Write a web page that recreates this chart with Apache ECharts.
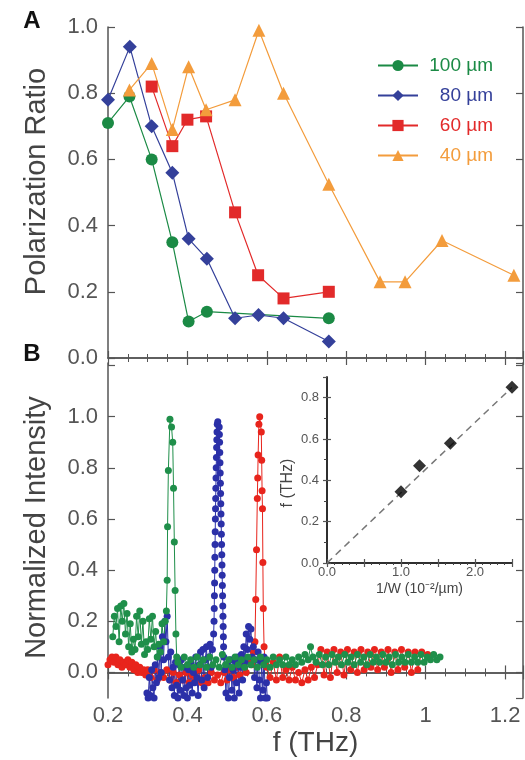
<!DOCTYPE html>
<html><head><meta charset="utf-8">
<script src="https://cdn.jsdelivr.net/npm/echarts@6/dist/echarts.min.js"></script>
<style>html,body{margin:0;padding:0;background:#fff}#c{width:525px;height:760px}</style>
</head><body><div id="c"></div>
<script>
// ---------- Panel A: polarization ratio ----------
const seriesNames = ['100 µm', '80 µm', '60 µm', '40 µm'];
const f100 = [0.200, 0.254, 0.310, 0.362, 0.403, 0.449, 0.756];
const r100 = [0.71, 0.79, 0.60, 0.35, 0.11, 0.14, 0.12];
const f80 = [0.200, 0.255, 0.310, 0.362, 0.403, 0.449, 0.520, 0.579, 0.642, 0.756];
const r80 = [0.78, 0.94, 0.70, 0.56, 0.36, 0.30, 0.12, 0.13, 0.12, 0.05];
const f60 = [0.310, 0.362, 0.400, 0.447, 0.520, 0.578, 0.642, 0.756];
const r60 = [0.82, 0.64, 0.72, 0.73, 0.44, 0.25, 0.18, 0.20];
const f40 = [0.254, 0.310, 0.362, 0.403, 0.447, 0.520, 0.580, 0.642, 0.756, 0.885, 0.948, 1.041, 1.222];
const r40 = [0.81, 0.89, 0.69, 0.88, 0.75, 0.78, 0.99, 0.80, 0.525, 0.23, 0.23, 0.355, 0.25];

// ---------- Panel B: normalized spectra [f (THz), intensity] ----------
const spec100 = [
 [0.212,0.14],[0.216,0.22],[0.220,0.18],[0.224,0.25],[0.228,0.12],[0.232,0.26],[0.236,0.20],[0.240,0.27],
 [0.244,0.15],[0.248,0.23],[0.252,0.10],[0.256,0.19],[0.260,0.08],[0.264,0.13],[0.268,0.09],[0.272,0.22],
 [0.276,0.14],[0.280,0.24],[0.284,0.11],[0.288,0.20],[0.292,0.07],[0.296,0.12],[0.300,0.09],[0.304,0.21],
 [0.308,0.13],[0.312,0.22],[0.316,0.10],[0.320,0.16],[0.324,0.06],[0.328,0.11],[0.332,0.08],[0.336,0.19],
 [0.340,0.12],[0.344,0.20],[0.347,0.24],[0.349,0.36],[0.350,0.57],[0.352,0.79],[0.356,0.99],[0.360,0.96],
 [0.363,0.90],[0.365,0.72],[0.367,0.51],[0.369,0.32],[0.371,0.15],[0.373,0.06],
 [0.376,0.04],[0.384,0.02],[0.392,0.06],[0.400,0.03],[0.408,0.05],[0.416,0.02],[0.424,0.06],[0.432,0.03],
 [0.440,0.05],[0.448,0.02],[0.456,0.06],[0.464,0.03],[0.472,0.05],[0.480,0.02],[0.488,0.07],[0.496,0.03],
 [0.504,0.05],[0.512,0.02],[0.520,0.06],[0.528,0.03],[0.536,0.05],[0.544,0.02],[0.552,0.06],[0.560,0.03],
 [0.568,0.05],[0.576,0.02],[0.584,0.06],[0.592,0.03],[0.600,0.05],[0.608,0.02],[0.616,0.06],[0.624,0.03],
 [0.632,0.05],[0.640,0.03],[0.648,0.06],[0.656,0.03],[0.664,0.05],[0.672,0.03],[0.680,0.06],[0.688,0.04],
 [0.696,0.07],[0.704,0.05],[0.710,0.10],[0.716,0.06],[0.724,0.04],[0.732,0.07],[0.740,0.03],[0.748,0.06],
 [0.756,0.03],[0.764,0.07],[0.772,0.04],[0.780,0.06],[0.788,0.03],[0.796,0.07],[0.804,0.04],[0.812,0.06],
 [0.820,0.03],[0.828,0.07],[0.836,0.04],[0.844,0.06],[0.852,0.03],[0.860,0.07],[0.868,0.04],[0.876,0.06],
 [0.884,0.04],[0.892,0.07],[0.900,0.04],[0.908,0.06],[0.916,0.03],[0.924,0.07],[0.932,0.04],[0.940,0.06],
 [0.948,0.04],[0.956,0.07],[0.964,0.04],[0.972,0.06],[0.980,0.04],[0.988,0.07],[0.996,0.04],[1.004,0.06],
 [1.012,0.05],[1.020,0.07],[1.028,0.05],[1.036,0.06]
];
const spec80 = [
 [0.298,-0.08],[0.301,-0.10],[0.304,-0.02],[0.307,-0.09],[0.310,0.01],[0.313,-0.06],[0.316,-0.10],[0.319,0.03],
 [0.322,-0.04],[0.325,0.06],[0.328,-0.02],[0.331,0.10],[0.334,0.00],[0.337,0.14],[0.340,0.05],[0.343,0.20],
 [0.346,0.12],[0.349,0.22],[0.352,0.06],[0.355,-0.03],[0.358,0.08],[0.361,-0.06],[0.364,0.02],[0.367,-0.09],
 [0.370,0.04],[0.373,-0.05],[0.376,-0.10],[0.379,0.03],[0.382,-0.07],[0.385,0.05],[0.388,-0.03],[0.391,-0.09],
 [0.394,0.02],[0.397,-0.06],[0.400,-0.10],[0.403,0.01],[0.406,-0.05],[0.409,0.04],[0.412,-0.08],[0.415,0.00],
 [0.418,-0.04],[0.421,0.06],[0.424,-0.02],[0.427,-0.09],[0.430,0.03],[0.433,0.08],[0.436,-0.03],[0.439,0.09],
 [0.442,-0.06],[0.445,0.05],[0.448,0.10],[0.451,-0.02],[0.454,0.06],[0.457,0.11],[0.460,0.02],[0.463,0.09],
 [0.466,0.15],
 [0.4670,0.20],[0.4675,0.25],[0.4680,0.30],[0.4684,0.35],[0.4688,0.40],[0.4692,0.45],[0.4696,0.50],[0.4700,0.55],
 [0.4704,0.60],[0.4708,0.64],[0.4712,0.68],[0.4716,0.72],[0.4720,0.76],[0.4725,0.80],[0.4730,0.84],[0.4735,0.88],
 [0.4740,0.91],[0.4745,0.94],[0.4752,0.97],[0.4765,0.98],
 [0.4800,0.96],[0.4805,0.93],[0.4810,0.90],[0.4815,0.86],[0.4820,0.82],[0.4825,0.78],[0.4830,0.74],[0.4835,0.70],
 [0.4840,0.66],[0.4845,0.62],[0.4850,0.58],[0.4855,0.54],[0.4860,0.50],[0.4865,0.46],[0.4870,0.42],[0.4875,0.38],
 [0.4880,0.34],[0.4885,0.30],[0.4890,0.26],[0.4895,0.22],[0.4900,0.18],[0.4905,0.14],[0.4910,0.10],[0.4915,0.06],
 [0.494,0.01],[0.497,-0.08],[0.500,0.03],[0.503,-0.10],[0.506,-0.02],[0.509,0.05],[0.512,-0.07],[0.515,0.01],
 [0.518,-0.10],[0.521,0.04],[0.524,-0.04],[0.527,0.06],[0.530,-0.08],[0.533,0.02],[0.536,0.07],[0.539,-0.03],
 [0.542,0.10],[0.545,0.04],[0.548,0.15],[0.551,0.09],[0.554,0.18],[0.557,0.13],[0.560,0.17],[0.563,0.06],
 [0.566,0.10],[0.569,-0.02],[0.572,0.05],[0.575,-0.06],[0.578,0.08],[0.581,-0.03],[0.584,-0.10],[0.587,0.04],
 [0.590,-0.07],[0.593,0.06],[0.596,-0.10],[0.599,-0.04],[0.601,-0.10]
];
const spec60 = [
 [0.200,0.03],[0.205,0.05],[0.210,0.06],[0.215,0.04],[0.220,0.06],[0.225,0.03],[0.230,0.05],[0.235,0.02],
 [0.240,0.04],[0.245,0.03],[0.250,0.05],[0.255,0.02],[0.260,0.04],[0.265,0.01],[0.270,0.03],[0.275,0.00],
 [0.280,0.02],[0.285,0.00],[0.290,0.01],[0.295,-0.01],[0.300,0.01],[0.308,-0.02],[0.316,0.01],[0.324,-0.03],
 [0.332,0.00],[0.340,-0.02],[0.348,0.01],[0.356,-0.03],[0.364,0.00],[0.372,-0.04],[0.380,-0.01],[0.388,-0.03],
 [0.396,0.00],[0.404,-0.04],[0.412,-0.01],[0.420,-0.03],[0.428,0.01],[0.436,-0.04],[0.444,-0.02],[0.452,-0.04],
 [0.460,0.00],[0.468,-0.03],[0.476,-0.01],[0.484,-0.04],[0.492,0.00],[0.500,-0.03],[0.508,0.01],[0.516,-0.02],
 [0.524,0.02],[0.532,-0.01],[0.540,0.03],[0.548,0.00],[0.556,0.05],[0.562,0.03],[0.566,0.08],[0.570,0.12],
 [0.572,0.285],[0.574,0.48],[0.576,0.68],[0.577,0.76],[0.578,0.85],[0.580,0.97],[0.582,1.00],
 [0.586,0.94],[0.587,0.83],[0.588,0.71],[0.589,0.64],[0.590,0.43],[0.591,0.25],[0.593,0.10],[0.596,0.03],
 [0.600,0.02],[0.608,-0.02],[0.616,0.04],[0.624,-0.03],[0.632,0.06],[0.640,-0.02],[0.648,0.01],[0.656,-0.03],
 [0.664,0.02],[0.672,-0.03],[0.680,0.00],[0.688,-0.04],[0.696,0.01],[0.704,-0.03],[0.712,0.02],[0.720,-0.02],
 [0.728,0.03],[0.736,0.09],[0.744,-0.01],[0.752,0.08],[0.760,-0.02],[0.769,0.09],[0.777,0.00],[0.786,0.08],
 [0.794,-0.01],[0.803,0.09],[0.811,0.01],[0.820,0.08],[0.828,0.00],[0.837,0.09],[0.845,0.01],[0.854,0.08],
 [0.862,0.02],[0.871,0.09],[0.879,0.01],[0.888,0.08],[0.896,0.02],[0.905,0.09],[0.913,0.00],[0.922,0.08],
 [0.930,0.01],[0.939,0.09],[0.947,0.02],[0.956,0.08],[0.964,0.00],[0.973,0.08],[0.980,0.01],[0.990,0.08],
 [1.005,0.07]
];

// ---------- Inset: f vs 1/W ----------
const invW = [1.0, 1.25, 1.667, 2.5];
const fPeak = [0.345, 0.47, 0.58, 0.85];
const fitX = [0.0, 2.5];
const fitY = [0.0, 0.85];

// ---------- tick labels ----------
const xTickLabels = ['0.2', '0.4', '0.6', '0.8', '1', '1.2'];
const insetXTickLabels = ['0.0', '', '1.0', '', '2.0', ''];

const FONT = "'Liberation Sans', Arial, Helvetica, sans-serif";
const colA = ['#1b8a45', '#34409a', '#e22a2a', '#f39c3c'];
const colB = ['#1f8f4a', '#2b30a8', '#e8241c'];
const AX = '#555';
const zip = (a, b) => a.map((v, i) => [v, b[i]]);

const lineAx = {show: true, lineStyle: {color: AX, width: 1.5}};
const tickIn = (len) => ({show: true, inside: true, length: len, lineStyle: {color: AX, width: 1.2}});

function xAx(grid, pos, labels, extra) {
  return Object.assign({
    type: 'value', gridIndex: grid, position: pos, min: 0.2, max: 1.245, interval: 0.2,
    axisLine: lineAx, axisTick: tickIn(7),
    minorTick: {show: true, splitNumber: 4, length: 4, lineStyle: {color: AX, width: 1}},
    splitLine: {show: false},
    axisLabel: labels ? {show: true, fontSize: 22, color: '#555', fontFamily: FONT, margin: 7,
      showMaxLabel: false, formatter: (v, i) => xTickLabels[i] !== undefined ? xTickLabels[i] : ''} : {show: false}
  }, extra || {});
}

const option = {
  animation: false,
  backgroundColor: '#fff',
  textStyle: {fontFamily: FONT},
  grid: [
    {left: 108, right: 2, top: 27, height: 331},
    {left: 108, right: 2, top: 363, height: 335},
    {left: 327, top: 377, width: 185, height: 186, show: true, backgroundColor: '#fff', borderWidth: 0, z: 5}
  ],
  xAxis: [
    xAx(0, 'bottom', false),
    xAx(0, 'top', false),
    xAx(1, 'bottom', true, {name: 'f (THz)', nameLocation: 'middle', nameGap: 31,
      nameTextStyle: {fontSize: 28, color: '#444', fontFamily: FONT}}),
    xAx(1, 'top', false),
    {type: 'value', gridIndex: 2, position: 'bottom', min: 0, max: 2.5, interval: 0.5, z: 6,
     axisLine: {show: true, lineStyle: {color: '#222', width: 1.5}}, axisTick: tickIn(4), splitLine: {show: false},
     axisLabel: {fontSize: 13, color: '#555', fontFamily: FONT, margin: 3,
       formatter: (v, i) => insetXTickLabels[i] || ''},
     name: '1/W (10⁻²/µm)', nameLocation: 'middle', nameGap: 19,
     nameTextStyle: {fontSize: 14, color: '#444', fontFamily: FONT}},
    {type: 'value', gridIndex: 2, position: 'top', min: 0, max: 2.5, interval: 0.5, z: 6,
     axisLine: {show: true, lineStyle: {color: '#222', width: 1.5}}, axisTick: tickIn(4),
     minorTick: {show: true, splitNumber: 5, length: 2, lineStyle: {color: '#444'}},
     splitLine: {show: false}, axisLabel: {show: false}}
  ],
  yAxis: [
    {type: 'value', gridIndex: 0, position: 'left', min: 0, max: 1, interval: 0.2,
     axisLine: lineAx, axisTick: tickIn(7), splitLine: {show: false},
     axisLabel: {fontSize: 22, color: '#555', fontFamily: FONT, margin: 10, formatter: v => v.toFixed(1)},
     name: 'Polarization Ratio', nameLocation: 'middle', nameGap: 57,
     nameTextStyle: {fontSize: 29, color: '#444', fontFamily: FONT, padding: [0, 0, 0, 22]}},
    {type: 'value', gridIndex: 0, position: 'right', min: 0, max: 1, interval: 0.2,
     axisLine: lineAx, axisTick: tickIn(7), splitLine: {show: false}, axisLabel: {show: false}},
    {type: 'value', gridIndex: 1, position: 'left', min: -0.1, max: 1.21, splitNumber: 6,
     axisLine: lineAx, axisTick: tickIn(7), splitLine: {show: false},
     axisLabel: {fontSize: 22, color: '#555', fontFamily: FONT, margin: 10, showMinLabel: false, showMaxLabel: false,
       formatter: v => (v > -0.01 && v < 1.05) ? v.toFixed(1) : ''},
     name: 'Normalized Intensity', nameLocation: 'middle', nameGap: 57,
     nameTextStyle: {fontSize: 29, color: '#444', fontFamily: FONT, padding: [0, 0, 0, 6]}},
    {type: 'value', gridIndex: 1, position: 'right', min: -0.1, max: 1.21, splitNumber: 6,
     axisLine: lineAx, axisTick: tickIn(7), splitLine: {show: false}, axisLabel: {show: false}},
    {type: 'value', gridIndex: 2, position: 'left', min: 0, max: 0.9, interval: 0.2, z: 6,
     axisLine: {show: true, lineStyle: {color: '#222', width: 1.5}}, axisTick: tickIn(4), splitLine: {show: false},
     axisLabel: {fontSize: 13, color: '#555', fontFamily: FONT, margin: 8, showMaxLabel: false,
       formatter: v => v < 0.85 ? v.toFixed(1) : ''},
     name: 'f (THz)', nameLocation: 'middle', nameGap: 31,
     nameTextStyle: {fontSize: 16, color: '#444', fontFamily: FONT, padding: [0, 26, 0, 0]}},
    {type: 'value', gridIndex: 2, position: 'right', min: 0, max: 0.9, interval: 0.2, z: 6,
     axisLine: {show: true, lineStyle: {color: '#222', width: 1.5}}, axisTick: tickIn(4),
     minorTick: {show: true, splitNumber: 2, length: 3, lineStyle: {color: '#444'}},
     splitLine: {show: false}, axisLabel: {show: false}}
  ],
  legend: {
    left: 372, top: 51, orient: 'vertical', itemWidth: 40, itemHeight: 14, itemGap: 11,
    data: seriesNames.map((n, i) => ({name: n, textStyle: {color: colA[i]}})),
    formatter: n => '{r|' + n + '}',
    textStyle: {fontSize: 19, fontFamily: FONT, rich: {r: {width: 70, align: 'right', fontSize: 19, lineHeight: 21, fontFamily: FONT}}}
  },
  graphic: [
    {type: 'text', x: 32, y: 21, style: {text: 'A', fontSize: 24, fontWeight: 'bold', fontFamily: FONT, fill: '#111', align: 'center', verticalAlign: 'middle'}},
    {type: 'text', x: 32, y: 354, style: {text: 'B', fontSize: 24, fontWeight: 'bold', fontFamily: FONT, fill: '#111', align: 'center', verticalAlign: 'middle'}}
  ],
  series: [
    {name: seriesNames[0], type: 'line', xAxisIndex: 0, yAxisIndex: 0, data: zip(f100, r100),
     symbol: 'circle', symbolSize: 12, itemStyle: {color: colA[0]}, lineStyle: {color: colA[0], width: 1.2}},
    {name: seriesNames[1], type: 'line', xAxisIndex: 0, yAxisIndex: 0, data: zip(f80, r80),
     symbol: 'diamond', symbolSize: 14, itemStyle: {color: colA[1]}, lineStyle: {color: colA[1], width: 1.2}},
    {name: seriesNames[2], type: 'line', xAxisIndex: 0, yAxisIndex: 0, data: zip(f60, r60),
     symbol: 'rect', symbolSize: 12, itemStyle: {color: colA[2]}, lineStyle: {color: colA[2], width: 1.2}},
    {name: seriesNames[3], type: 'line', xAxisIndex: 0, yAxisIndex: 0, data: zip(f40, r40),
     symbol: 'triangle', symbolSize: 13, itemStyle: {color: colA[3]}, lineStyle: {color: colA[3], width: 1.2}},

    {name: 'spec60', type: 'line', xAxisIndex: 2, yAxisIndex: 2, data: spec60,
     symbol: 'circle', symbolSize: 7, itemStyle: {color: colB[2]}, lineStyle: {color: colB[2], width: 1}},
    {name: 'spec80', type: 'line', xAxisIndex: 2, yAxisIndex: 2, data: spec80,
     symbol: 'circle', symbolSize: 7, itemStyle: {color: colB[1]}, lineStyle: {color: colB[1], width: 1}},
    {name: 'spec100', type: 'line', xAxisIndex: 2, yAxisIndex: 2, data: spec100,
     symbol: 'circle', symbolSize: 7, itemStyle: {color: colB[0]}, lineStyle: {color: colB[0], width: 1}},

    {name: 'fit', type: 'line', xAxisIndex: 4, yAxisIndex: 4, data: zip(fitX, fitY), z: 7,
     symbol: 'none', lineStyle: {color: '#777', width: 1.5, type: [7, 5]}},
    {name: 'peaks', type: 'scatter', xAxisIndex: 4, yAxisIndex: 4, data: zip(invW, fPeak), z: 8,
     symbol: 'diamond', symbolSize: 13, itemStyle: {color: '#000'}}
  ]
};
const chart = echarts.init(document.getElementById('c'), null, {width: 525, height: 760});
chart.setOption(option);
</script></body></html>
